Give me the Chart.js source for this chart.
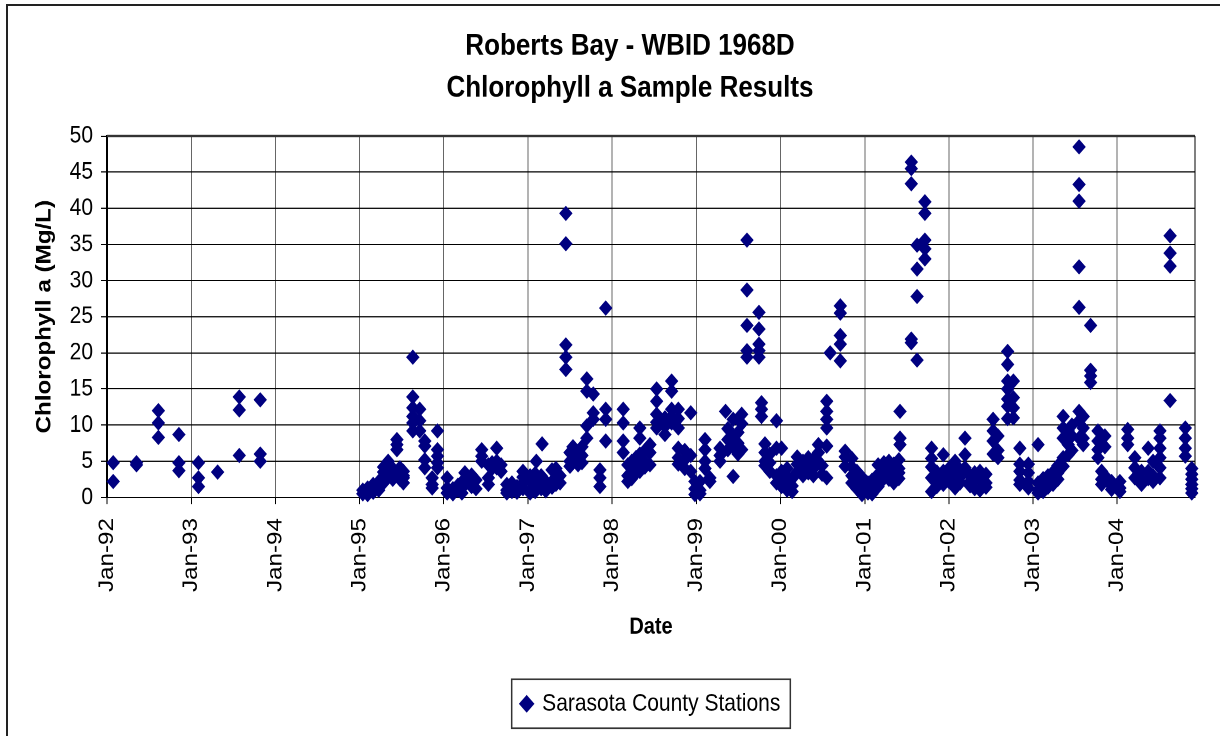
<!DOCTYPE html>
<html>
<head>
<meta charset="utf-8">
<title>Roberts Bay - WBID 1968D</title>
<script src="https://cdn.jsdelivr.net/npm/chart.js@4.4.1/dist/chart.umd.min.js"></script>
<style>
  html, body { margin: 0; padding: 0; background: #fff; overflow: hidden; width: 1220px; height: 736px; }
  #frame { position: absolute; left: 6px; top: 4px; width: 1300px; height: 800px; border: 2px solid #222; box-sizing: border-box; }
  /* the original picture is a vertically stretched Excel export */
  #wrap { position: absolute; left: 0; top: 0; width: 1260px; height: 640px; transform: scaleY(1.15); transform-origin: 0 0; }
</style>
</head>
<body>
<div id="frame"></div>
<div id="wrap"><canvas id="chlChart"></canvas></div>
<script>
// sampling trips (several stations per date) and the chlorophyll a results of each
const sampleDates = [
  '1992-01-28', '1992-05-08', '1992-08-11', '1992-11-08', '1993-02-01', '1993-04-25', '1993-07-28', '1993-10-27',
  '1995-01-15', '1995-02-05', '1995-03-01', '1995-03-25', '1995-04-15', '1995-05-05', '1995-05-25', '1995-06-12',
  '1995-06-25', '1995-07-10', '1995-08-20', '1995-09-19', '1995-10-11', '1995-11-12', '1995-12-05',
  '1996-01-16', '1996-02-10', '1996-03-03', '1996-03-20', '1996-04-02', '1996-05-01', '1996-05-20', '1996-06-14',
  '1996-07-13', '1996-07-29', '1996-08-18', '1996-09-06', '1996-10-01', '1996-10-23', '1996-11-14', '1996-12-10',
  '1997-01-10', '1997-02-01', '1997-02-06', '1997-02-27', '1997-03-03', '1997-03-19', '1997-04-15', '1997-05-02',
  '1997-05-20', '1997-06-14', '1997-07-02', '1997-07-15', '1997-08-06', '1997-08-23', '1997-09-13', '1997-10-11',
  '1997-11-09', '1997-12-04',
  '1998-02-18', '1998-03-10', '1998-03-27', '1998-04-14', '1998-05-01', '1998-05-23', '1998-06-14', '1998-07-13',
  '1998-08-18', '1998-09-16', '1998-10-15', '1998-11-12', '1998-12-08', '1998-12-26',
  '1999-01-17', '1999-02-08', '1999-03-01', '1999-04-14', '1999-05-08', '1999-05-18', '1999-06-10', '1999-07-01',
  '1999-07-17', '1999-08-09', '1999-09-30', '1999-10-11', '1999-10-26', '1999-11-16', '1999-12-15',
  '2000-01-06', '2000-01-30', '2000-02-21', '2000-03-14', '2000-04-08', '2000-05-01', '2000-05-23', '2000-06-14',
  '2000-06-30', '2000-07-20', '2000-08-04', '2000-09-17', '2000-10-08', '2000-11-06', '2000-11-28', '2000-12-20',
  '2001-01-15', '2001-02-02', '2001-02-28', '2001-03-25', '2001-04-16', '2001-05-07', '2001-05-29', '2001-06-03',
  '2001-07-22', '2001-08-16', '2001-09-19', '2001-10-18', '2001-11-10', '2001-12-08',
  '2002-01-01', '2002-01-28', '2002-02-19', '2002-03-12', '2002-04-03', '2002-04-23', '2002-05-16', '2002-06-11',
  '2002-07-12', '2002-08-02', '2002-09-13', '2002-10-08', '2002-11-05', '2002-12-12',
  '2003-01-23', '2003-02-14', '2003-03-07', '2003-03-29', '2003-04-19', '2003-05-12', '2003-06-03', '2003-06-19',
  '2003-07-20', '2003-08-07', '2003-09-08', '2003-10-10', '2003-10-26', '2003-11-09', '2003-12-08',
  '2004-01-13', '2004-02-16', '2004-03-18', '2004-04-16', '2004-05-15', '2004-06-05', '2004-07-05', '2004-08-18',
  '2004-10-23', '2004-11-20'
];

const chlValues = [
  [4.8, 2.2], [4.8, 4.5], [12.0, 10.3, 8.3], [8.7, 4.8, 3.7], [4.8, 2.7, 1.5], [3.5], [13.9, 12.1, 5.8], [13.5, 6.0, 5.0],
  [0.5, 1.0], [0.8, 1.3, 0.4], [1.1, 1.8, 0.7], [1.0, 1.6, 2.2], [2.7, 3.5, 4.2, 2.0], [3.9, 4.6, 5.0, 3.2], [3.0, 4.0, 2.5, 3.6], [8.0, 7.3, 6.6],
  [3.4, 4.1, 2.5], [3.6, 2.7, 2.0, 3.0], [19.4, 13.9, 12.4, 11.2, 10.3, 9.2], [12.2, 10.6, 9.2], [7.8, 7.1, 5.2, 4.1], [2.7, 1.8, 1.3], [9.2, 6.6, 5.7, 4.8, 4.1],
  [2.7, 1.3, 0.6], [0.8, 1.2, 0.5], [1.0, 1.7], [0.6, 1.3, 2.0], [3.4, 1.8, 2.6], [2.7, 1.5, 2.0, 3.1], [1.2, 2.4], [6.6, 5.7, 5.0],
  [2.7, 1.8, 4.5], [4.8, 4.0], [6.8, 5.0, 4.1], [4.5, 3.6], [1.8, 1.0, 0.6], [1.3, 0.8, 2.0], [0.7, 1.5, 1.1], [3.6, 2.0, 1.2, 2.8],
  [1.0, 2.2, 0.6, 3.0], [1.6, 0.8, 2.5, 3.3], [5.0], [2.0, 1.2, 3.0, 2.6], [7.4], [1.5, 0.9, 2.2], [3.8, 2.2, 1.4], [2.5, 3.4, 1.8, 4.0],
  [3.0, 2.0], [39.3, 35.1, 21.1, 19.4, 17.7], [5.0, 4.3, 6.2], [7.0, 5.8], [4.5, 5.5, 6.4], [5.8, 7.0, 4.8], [16.4, 14.7, 9.9, 8.2], [14.3, 11.7, 10.8],
  [3.8, 2.7, 1.5], [26.2, 12.2, 10.8, 7.8],
  [12.2, 10.3, 7.8, 6.2], [3.0, 2.2, 4.5], [4.0, 5.0, 2.6], [5.5, 3.4, 4.6], [9.6, 8.2, 6.0, 3.6], [5.0, 4.2, 6.5], [7.3, 6.2, 4.5], [15.0, 13.3, 11.5, 10.4, 9.6],
  [11.0, 9.8, 8.7], [16.1, 14.7, 12.2, 11.2, 10.3], [12.2, 10.9, 9.6, 6.8, 5.5, 4.6], [6.5, 5.2, 4.0], [11.7, 5.8, 3.6], [2.2, 1.2, 0.4],
  [1.0, 2.2, 0.5], [8.0, 6.6, 5.0, 4.0], [2.7, 2.2], [6.8, 5.8, 5.0], [11.9], [9.5, 8.0, 6.6], [10.8, 8.5, 7.0, 2.9], [9.0, 7.5, 6.0],
  [11.5, 10.2, 6.6], [35.6, 28.7, 23.8, 20.3, 19.4], [25.6, 23.3, 21.2, 20.3, 19.4], [13.1, 12.2, 11.2], [7.4, 6.2, 5.0, 4.4], [6.0, 3.6, 4.8], [10.6, 6.8, 2.0, 3.0],
  [6.8, 2.2, 1.5, 3.6], [1.0, 2.0, 3.0, 4.0], [0.8, 1.6, 2.6], [3.5, 4.6, 5.6], [3.0, 4.2, 5.0], [4.5, 3.4, 5.5], [4.0, 5.3, 3.0], [7.3, 5.0, 6.2],
  [4.4, 3.2], [13.3, 11.9, 10.8, 9.6, 7.1, 2.7], [20.0], [26.5, 25.5, 22.4, 21.2, 18.9], [6.4, 5.6, 4.3], [5.4, 4.2, 3.0, 2.0], [3.6, 2.4, 1.2], [1.8, 0.8, 0.4, 2.8],
  [2.0, 1.0, 0.6], [1.5, 0.5, 2.4], [3.2, 4.5, 2.2, 1.5], [4.8, 3.6, 2.6], [5.0, 3.8, 2.5, 4.3], [4.6, 3.0, 2.0], [5.2, 3.4, 2.6, 4.0], [11.9, 8.2, 7.3],
  [46.4, 45.5, 43.4, 21.9, 21.4], [34.9, 31.6, 27.8, 19.0], [40.9, 39.3, 35.6, 34.4, 33.0], [6.8, 5.4, 4.2, 2.7, 0.8], [3.5, 2.2, 1.5], [5.9, 3.6, 2.6, 1.8],
  [4.0, 2.2, 3.0], [5.0, 3.2, 1.3], [3.8, 2.0, 2.8], [8.2, 5.9, 4.1], [3.0, 1.6, 2.2], [2.6, 1.2, 3.4], [1.0, 2.4, 3.6], [2.0, 3.2, 1.4],
  [10.8, 9.2, 7.8, 6.0], [8.5, 6.5, 5.5], [20.2, 18.4, 16.1, 15.0, 13.6, 12.6, 10.9], [16.1, 13.8, 12.4, 11.0], [6.8, 4.6, 3.6, 2.4, 1.8], [4.6, 3.4, 2.2, 1.3],
  [7.3, 2.0, 1.0, 0.6], [1.5, 2.6, 0.8], [2.2, 3.0, 1.4], [2.8, 1.8, 3.5], [3.4, 4.4, 2.5], [11.2, 9.6, 8.2, 5.5, 4.3], [9.2, 7.3, 5.9], [10.0, 8.5, 6.5],
  [48.5, 43.3, 41.0, 31.9, 26.3, 11.9, 10.6, 8.2], [11.2, 9.6, 8.2, 7.3], [23.8, 17.6, 16.8, 15.9], [9.2, 7.8, 6.6, 5.5], [3.6, 2.5, 1.8], [8.5, 7.0, 3.0], [2.2, 1.1, 1.6],
  [2.2, 1.3, 0.8], [9.4, 8.2, 7.3], [5.5, 4.1, 2.7], [3.6, 2.5, 1.8], [6.8, 3.6, 2.6], [5.0, 3.0, 2.2], [9.2, 8.2, 6.8, 5.5, 4.1, 2.7], [36.2, 33.8, 32.0, 13.4],
  [9.6, 8.2, 6.8, 5.7], [4.0, 3.2, 2.5, 1.8, 1.2, 0.6]
];

const tickYears = [1992, 1993, 1994, 1995, 1996, 1997, 1998, 1999, 2000, 2001, 2002, 2003, 2004];
const monthNames = ['Jan', 'Feb', 'Mar', 'Apr', 'May', 'Jun', 'Jul', 'Aug', 'Sep', 'Oct', 'Nov', 'Dec'];
const axisStart = '1992-01-01';
const axisEnd = '2004-12-04';
const yMin = 0, yMax = 50, yStep = 5;

function toTime(s) {
    const [y, m, d] = s.split('-').map(Number);
    return Date.UTC(y, m - 1, d);
}

const points = [];
sampleDates.forEach((d, i) => {
    chlValues[i].forEach(v => points.push({ x: toTime(d), y: v }));
});

// top and right edges of the plot box
const plotFrame = {
    id: 'plotFrame',
    beforeDatasetsDraw(chart) {
        const { ctx, chartArea: a } = chart;
        ctx.save();
        ctx.strokeStyle = '#333';
        ctx.lineWidth = 2;
        ctx.beginPath();
        ctx.moveTo(a.left, a.top);
        ctx.lineTo(a.right, a.top);
        ctx.stroke();
        ctx.strokeStyle = '#000';
        ctx.lineWidth = 1;
        ctx.beginPath();
        ctx.moveTo(a.right, a.top);
        ctx.lineTo(a.right, a.bottom);
        ctx.stroke();
        ctx.restore();
    }
};

// box round the legend, as Excel draws it
const legendFrame = {
    id: 'legendFrame',
    afterDraw(chart) {
        const box = chart.legend && chart.legend.legendHitBoxes[0];
        if (!box) return;
        const ctx = chart.ctx;
        const cy = box.top + box.height / 2;
        ctx.save();
        ctx.strokeStyle = '#333';
        ctx.lineWidth = 1.5;
        ctx.strokeRect(box.left - 10, cy - 21.3, box.width + 20, 42.6);
        ctx.restore();
    }
};

Chart.defaults.font.family = "'Liberation Sans', Arial, sans-serif";
Chart.defaults.color = '#000';

const ctx = document.getElementById('chlChart').getContext('2d');
const chlChart = new Chart(ctx, {
    type: 'scatter',
    data: {
        datasets: [{
            label: 'Sarasota County Stations',
            data: points,
            pointStyle: 'rectRot',
            pointRadius: 6,
            pointHoverRadius: 6,
            backgroundColor: '#000080',
            borderColor: '#000080',
            borderWidth: 1,
            clip: false
        }]
    },
    options: {
        responsive: true,
        maintainAspectRatio: false,
        animation: false,
        devicePixelRatio: 2,
        layout: { padding: { left: 0, right: 0, top: 0, bottom: 7.5 } },
        plugins: {
            title: {
                display: true,
                text: ['Roberts Bay - WBID 1968D', 'Chlorophyll a Sample Results'],
                color: '#000',
                font: { size: 26, weight: 'bold', lineHeight: 1.4 },
                padding: { top: 22, bottom: 23.5 }
            },
            legend: {
                position: 'bottom',
                fullSize: false,
                labels: {
                    usePointStyle: true,
                    boxWidth: 10,
                    boxHeight: 10,
                    padding: 10,
                    color: '#000',
                    font: { size: 21 }
                }
            },
            tooltip: { enabled: false }
        },
        scales: {
            x: {
                type: 'linear',
                min: toTime(axisStart),
                max: toTime(axisEnd),
                afterBuildTicks: (scale) => {
                    scale.ticks = tickYears.map(y => ({ value: Date.UTC(y, 0, 1) }));
                },
                afterFit: (scale) => { scale.height = 159; },
                ticks: {
                    autoSkip: false,
                    minRotation: 90,
                    maxRotation: 90,
                    padding: 12,
                    color: '#000',
                    font: { size: 21 },
                    callback: (v) => {
                        const d = new Date(v);
                        return monthNames[d.getUTCMonth()] + '-' + String(d.getUTCFullYear()).slice(2);
                    }
                },
                grid: { color: '#666', lineWidth: 1, tickLength: 6, tickColor: '#000' },
                border: { color: '#000', width: 1 },
                title: {
                    display: true,
                    text: 'Date',
                    color: '#000',
                    font: { size: 20, weight: 'bold' },
                    padding: { top: 0, bottom: 34 }
                }
            },
            y: {
                min: yMin,
                max: yMax,
                afterFit: (scale) => { scale.width = 107; },
                ticks: { stepSize: yStep, padding: 8, color: '#000', font: { size: 21 } },
                grid: { color: '#000', lineWidth: 1, tickLength: 6, tickColor: '#000' },
                border: { color: '#000', width: 2 },
                title: {
                    display: true,
                    text: 'Chlorophyll a (Mg/L)',
                    color: '#000',
                    font: { size: 21, weight: 'bold' },
                    padding: { top: 32, bottom: 0 }
                }
            },
            // empty right-hand margin, so the title centres on the whole sheet
            yRight: {
                position: 'right',
                grid: { display: false },
                border: { display: false },
                ticks: { display: false },
                afterFit: (scale) => { scale.width = 65; }
            }
        }
    },
    plugins: [plotFrame, legendFrame]
});
</script>
</body>
</html>
